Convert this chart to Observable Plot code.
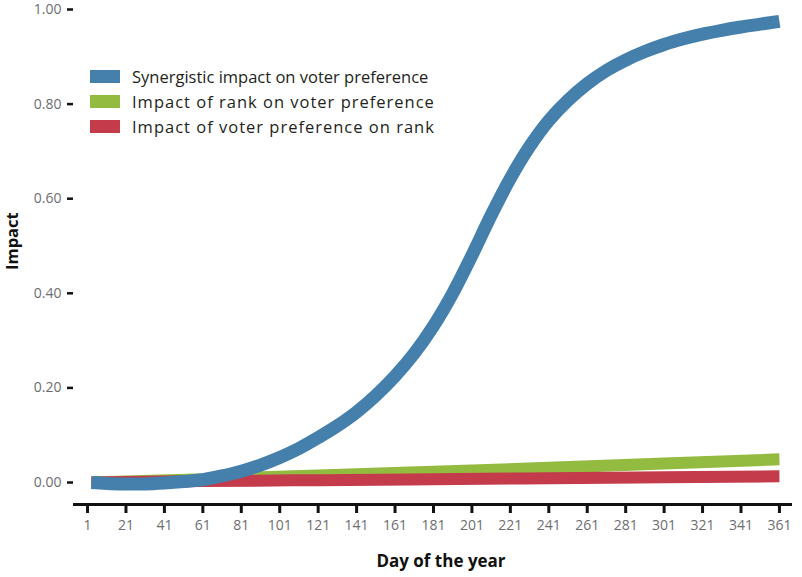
<!DOCTYPE html>
<html>
<head>
<meta charset="utf-8">
<script src="https://cdn.jsdelivr.net/npm/d3@7"></script>
<script src="https://cdn.jsdelivr.net/npm/@observablehq/plot@0.6"></script>
<style>
  html, body { margin: 0; padding: 0; background: #fff; }
  #wrap { position: relative; width: 802px; height: 577px; font-family: "Open Sans", sans-serif; }
  #legend { position: absolute; left: 90px; top: 64px; }
  .item { display: flex; align-items: center; height: 25px; }
  .sw { width: 30px; height: 13px; margin-right: 12px; }
  .lab { font-size: 16.5px; color: #231f20; white-space: nowrap; }
</style>
</head>
<body>
<div id="wrap"><div id="legend"></div></div>
<script>
// Data
const seriesNames = ["Synergistic impact on voter preference", "Impact of rank on voter preference", "Impact of voter preference on rank"];
const seriesColors = ["#4580ad", "#93bb3f", "#c43b4b"];

const blueDays = [3, 11, 21, 31, 41, 51, 61, 71, 81, 91, 101, 111, 121, 131, 141, 151, 161, 171, 181, 191, 201, 211, 221, 231, 241, 251, 261, 271, 281, 291, 301, 311, 321, 331, 341, 351, 361];
const synergistic = [0.000, -0.002, -0.003, -0.003, -0.001, 0.002, 0.006, 0.014, 0.024, 0.037, 0.053, 0.072, 0.095, 0.120, 0.149, 0.184, 0.225, 0.273, 0.331, 0.400, 0.480, 0.565, 0.643, 0.710, 0.765, 0.808, 0.843, 0.871, 0.893, 0.911, 0.926, 0.938, 0.948, 0.956, 0.963, 0.969, 0.975];

const lineDays = [3, 61, 121, 181, 241, 301, 361];
const rankOnPref = [0.000, 0.007, 0.015, 0.023, 0.031, 0.040, 0.049];
const prefOnRank = [0.000, 0.003, 0.005, 0.007, 0.009, 0.011, 0.013];

const xTicks = d3.range(1, 362, 20);
const yTicks = [0, 0.2, 0.4, 0.6, 0.8, 1.0];

const blue = blueDays.map((d, i) => ({day: d, v: synergistic[i]}));
const green = lineDays.map((d, i) => ({day: d, v: rankOnPref[i]}));
const red = lineDays.map((d, i) => ({day: d, v: prefOnRank[i]}));

const xDomain = [-6.3, 367.8];
const yDomain = [-0.0465, 1.0];

const chart = Plot.plot({
  width: 802,
  height: 577,
  marginLeft: 73,
  marginRight: 10,
  marginTop: 9,
  marginBottom: 73,
  style: {fontFamily: "'Open Sans', sans-serif", background: "#fff"},
  x: {domain: xDomain},
  y: {domain: yDomain},
  marks: [
    Plot.axisY({ticks: yTicks, tickFormat: d3.format(".2f"), tickSize: 6, tickPadding: 6, strokeWidth: 2.5, stroke: "#111", color: "#6d6e71", fontSize: 14, label: null}),
    Plot.axisX({ticks: xTicks, tickFormat: d => d, tickSize: 9, tickPadding: 7, strokeWidth: 3, stroke: "#111", color: "#6d6e71", fontSize: 14, label: null}),
    Plot.ruleY([yDomain[0]], {x1: xDomain[0], x2: xDomain[1], stroke: "#111", strokeWidth: 3}),
    Plot.line(green, {x: "day", y: "v", stroke: seriesColors[1], strokeWidth: 12, strokeLinecap: "butt", curve: "natural"}),
    Plot.line(red, {x: "day", y: "v", stroke: seriesColors[2], strokeWidth: 12, strokeLinecap: "butt", curve: "natural"}),
    Plot.line(blue, {x: "day", y: "v", stroke: seriesColors[0], strokeWidth: 13, strokeLinecap: "butt", curve: "catmull-rom"}),
    Plot.text(["Day of the year"], {frameAnchor: "bottom", dy: 62, dx: 8, fontSize: 17, fontWeight: "bold", fill: "#111", letterSpacing: 2.2}),
    Plot.text(["Impact"], {frameAnchor: "left", dx: -61, dy: 13, rotate: -90, fontSize: 16.5, fontWeight: "bold", fill: "#111", letterSpacing: 1.2})
  ]
});
document.getElementById("wrap").prepend(chart);

const legend = document.getElementById("legend");
seriesNames.forEach((n, i) => {
  const it = document.createElement("div");
  it.className = "item";
  it.innerHTML = `<div class="sw" style="background:${seriesColors[i]}"></div><div class="lab" style="letter-spacing:${i === 0 ? 0 : 1.0}px">${n}</div>`;
  legend.appendChild(it);
});
</script>
</body>
</html>
